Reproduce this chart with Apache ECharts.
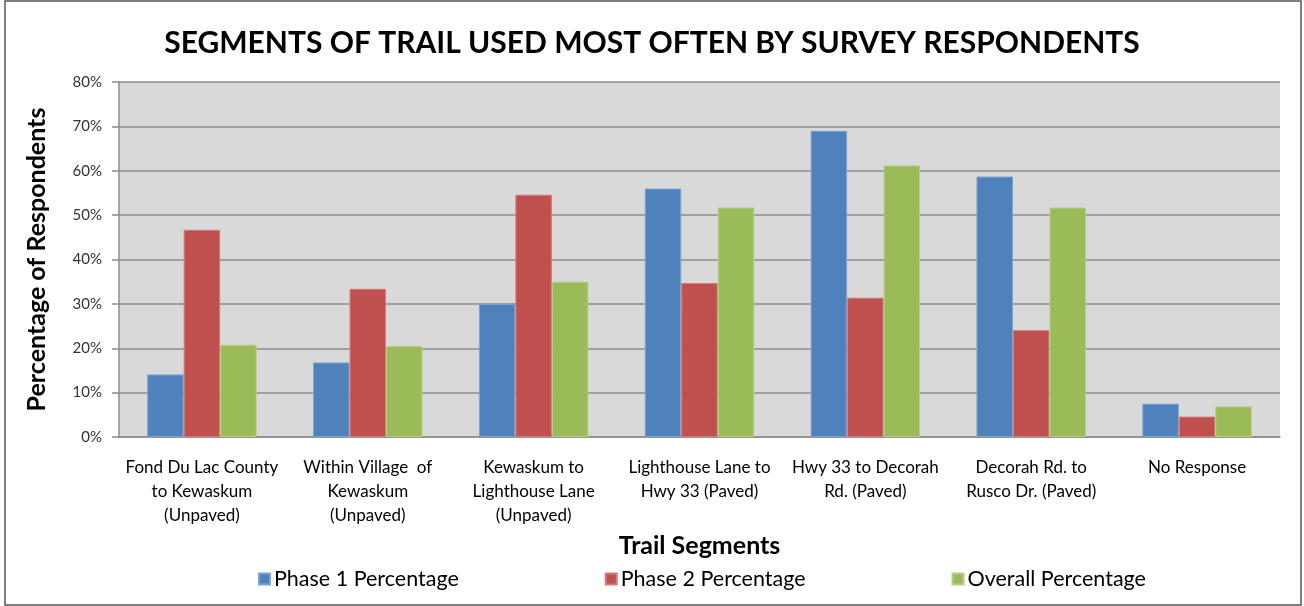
<!DOCTYPE html>
<html>
<head>
<meta charset="utf-8">
<script src="https://cdn.jsdelivr.net/npm/echarts@6/dist/echarts.min.js"></script>
<style>
html,body{margin:0;padding:0;background:#fff;}
#c{width:1304px;height:606px;}
</style>
</head>
<body>
<div id="c"></div>
<script>
const categories = [
  "Fond Du Lac County\nto Kewaskum\n(Unpaved)",
  "Within Village  of\nKewaskum\n(Unpaved)",
  "Kewaskum to\nLighthouse Lane\n(Unpaved)",
  "Lighthouse Lane to\nHwy 33 (Paved)",
  "Hwy 33 to Decorah\nRd. (Paved)",
  "Decorah Rd. to\nRusco Dr. (Paved)",
  "No Response"
];
const phase1 = [14.1, 16.8, 30.0, 56.0, 69.0, 58.7, 7.5];
const phase2 = [46.7, 33.4, 54.6, 34.7, 31.4, 24.1, 4.6];
const overall = [20.8, 20.5, 35.0, 51.7, 61.2, 51.7, 6.9];
const seriesNames = ["Phase 1 Percentage", "Phase 2 Percentage", "Overall Percentage"];
const colors = ["#4F81BD", "#C0504D", "#9BBB59"];
const borderColors = ["#7fa3d0", "#d27e7c", "#b5cf88"];

const chart = echarts.init(document.getElementById('c'), null, {renderer: 'canvas'});
const font = "Lato, 'Open Sans', sans-serif";
const mk = (name, data, i) => ({
  name, type: 'bar', data,
  barGap: '0%', barCategoryGap: '34%',
  itemStyle: {color: colors[i], borderColor: borderColors[i], borderWidth: 1},
  emphasis: {disabled: true}
});
chart.setOption({
  animation: false,
  backgroundColor: '#fff',
  title: {
    text: 'SEGMENTS OF TRAIL USED MOST OFTEN BY SURVEY RESPONDENTS',
    left: 'center', top: 23,
    textStyle: {fontFamily: font, fontWeight: 'bold', fontSize: 30, color: '#000'}
  },
  graphic: [{
    type: 'rect', shape: {x: 5, y: 1, width: 1296, height: 604},
    style: {fill: 'none', stroke: '#555', lineWidth: 1.5}, silent: true
  }],
  legend: {
    bottom: 11, left: 253,
    itemWidth: 11, itemHeight: 11, itemGap: 146, icon: 'rect',
    textStyle: {fontFamily: font, fontSize: 21.5, color: '#000', padding: [0,0,0,-1]},
    data: seriesNames
  },
  grid: {
    left: 119, right: 24, top: 82, bottom: 169,
    show: true, backgroundColor: '#d9d9d9', borderWidth: 0
  },
  xAxis: {
    type: 'category', data: categories,
    name: 'Trail Segments', nameLocation: 'middle', nameGap: 96,
    nameTextStyle: {fontFamily: font, fontWeight: 'bold', fontSize: 25, color: '#000'},
    axisLine: {lineStyle: {color: '#8c8c8c', width: 1.5}},
    axisTick: {show: false},
    axisLabel: {fontFamily: font, fontSize: 17, color: '#000', lineHeight: 24, margin: 19, interval: 0}
  },
  yAxis: {
    type: 'value', min: 0, max: 80, interval: 10,
    name: 'Percentage of Respondents', nameLocation: 'middle', nameGap: 70,
    nameTextStyle: {fontFamily: font, fontWeight: 'bold', fontSize: 25, color: '#000'},
    axisLine: {show: true, lineStyle: {color: '#8c8c8c', width: 1.5}},
    axisTick: {show: true, length: 7, lineStyle: {color: '#8c8c8c', width: 1.5}},
    splitLine: {lineStyle: {color: '#8c8c8c', width: 1.5}},
    axisLabel: {fontFamily: font, fontSize: 15, color: '#333', margin: 17, formatter: '{value}%'}
  },
  series: [mk(seriesNames[0], phase1, 0), mk(seriesNames[1], phase2, 1), mk(seriesNames[2], overall, 2)]
});
</script>
</body>
</html>
